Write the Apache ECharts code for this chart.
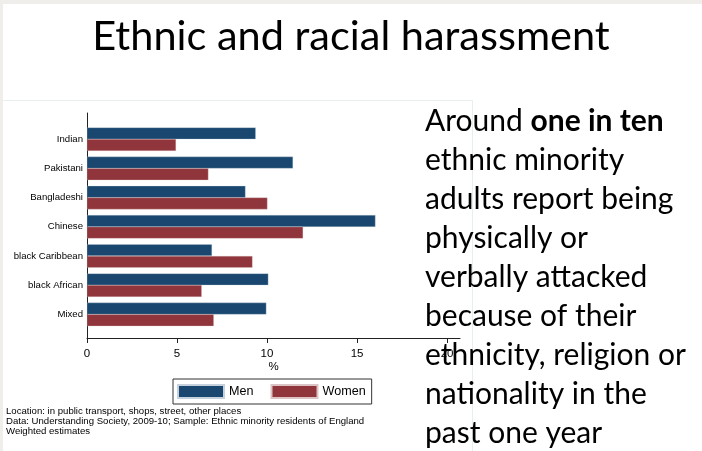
<!DOCTYPE html>
<html>
<head>
<meta charset="utf-8">
<script src="https://cdn.jsdelivr.net/npm/echarts@6/dist/echarts.min.js"></script>
<style>
html,body{margin:0;padding:0;background:#fff;}
#chart{width:702px;height:451px;}
</style>
</head>
<body>
<div id="chart"></div>
<script>
const categories = ['Indian', 'Pakistani', 'Bangladeshi', 'Chinese', 'black Caribbean', 'black African', 'Mixed'];
const menValues = [9.37, 11.44, 8.80, 16.02, 6.94, 10.07, 9.96];
const womenValues = [4.94, 6.74, 10.02, 12.00, 9.19, 6.37, 7.04];
const xTicks = [0, 5, 10, 15, 20];
const titleText = 'Ethnic and racial harassment';
const noteLines = [
  'Location: in public transport, shops, street, other places',
  'Data: Understanding Society, 2009-10; Sample: Ethnic minority residents of England',
  'Weighted estimates'
];

const chart = echarts.init(document.getElementById('chart'), null, {renderer: 'canvas'});
const AX = 'Liberation Sans, Arial, sans-serif';
const SLIDE = 'Lato, "Open Sans", sans-serif';
const axisMax = 20.72;

chart.setOption({
  backgroundColor: '#ffffff',
  animation: false,
  title: {
    text: titleText,
    left: 'center',
    top: 11,
    textStyle: {fontFamily: SLIDE, fontWeight: 'normal', fontSize: 41.5, color: '#000'}
  },
  legend: {
    data: ['Men', 'Women'],
    left: 173,
    top: 379,
    orient: 'horizontal',
    itemWidth: 46,
    itemHeight: 13,
    itemGap: 17,
    padding: [5, 6, 5, 4],
    borderColor: '#333',
    borderWidth: 1,
    icon: 'rect',
    textStyle: {fontFamily: AX, fontSize: 12.6, color: '#000'}
  },
  grid: [
    {left: 87, width: 373, top: 124.6, height: 204.4, containLabel: false},
    {left: 87, width: 373, top: 113, height: 225, containLabel: false}
  ],
  xAxis: [
    {gridIndex: 0, type: 'value', min: 0, max: axisMax, show: false, splitLine: {show: false}},
    {gridIndex: 1, type: 'value', min: 0, max: axisMax, interval: 5,
     name: '%', nameLocation: 'middle', nameGap: 21,
     nameTextStyle: {fontFamily: AX, fontSize: 11.5, color: '#000'},
     axisLine: {show: true, onZero: false, lineStyle: {color: '#222', width: 1}},
     axisTick: {show: true, length: 5, customValues: xTicks, lineStyle: {color: '#222'}},
     axisLabel: {show: true, customValues: xTicks, margin: 10, fontFamily: AX, fontSize: 11.5, color: '#000'},
     splitLine: {show: false}}
  ],
  yAxis: [
    {gridIndex: 0, type: 'category', data: categories, inverse: true,
     axisLine: {show: false}, axisTick: {show: false},
     axisLabel: {fontFamily: AX, fontSize: 9.6, color: '#000', margin: 4}},
    {gridIndex: 1, type: 'value', min: 0, max: 1,
     axisLine: {show: true, onZero: false, lineStyle: {color: '#222', width: 1}},
     axisTick: {show: false}, axisLabel: {show: false}, splitLine: {show: false}}
  ],
  series: [
    {name: 'Men', type: 'bar', xAxisIndex: 0, yAxisIndex: 0, data: menValues,
     barGap: '0%', barCategoryGap: '20%',
     itemStyle: {color: '#1a476f', borderColor: '#c5d2de', borderWidth: 0.3}},
    {name: 'Women', type: 'bar', xAxisIndex: 0, yAxisIndex: 0, data: womenValues,
     barGap: '0%', barCategoryGap: '20%',
     itemStyle: {color: '#90353b', borderColor: '#dcc4c6', borderWidth: 0.3}}
  ],
  graphic: [
    {type: 'rect', shape: {x: 0, y: 0, width: 702, height: 4}, style: {fill: '#efeeea'}, silent: true},
    {type: 'rect', shape: {x: 0, y: 0, width: 3, height: 451}, style: {fill: '#efeeea'}, silent: true},
    {type: 'line', shape: {x1: 3, y1: 100.5, x2: 472.5, y2: 100.5}, style: {stroke: '#e6eeee', lineWidth: 1}, silent: true},
    {type: 'line', shape: {x1: 472.5, y1: 100.5, x2: 472.5, y2: 451}, style: {stroke: '#e6eeee', lineWidth: 1}, silent: true},
    {type: 'text', left: 6, top: 406,
     style: {text: noteLines.join('\n'), fontFamily: AX, fontSize: 9.6, lineHeight: 10, fill: '#000'}},
    {type: 'text', left: 425, top: 102, z: 100,
     style: {
       text: '{n|Around }{b|one in ten}\n{n|ethnic minority}\n{n|adults report being}\n{n|physically or}\n{n|verbally attacked}\n{n|because of their}\n{n|ethnicity, religion or}\n{n|nationality in the}\n{n|past one year}',
       fontFamily: SLIDE, fontSize: 30, lineHeight: 39, fill: '#000',
       rich: {
         n: {fontFamily: SLIDE, fontSize: 30, lineHeight: 39, fill: '#000'},
         b: {fontFamily: SLIDE, fontSize: 30, lineHeight: 39, fontWeight: 'bold', fill: '#000'}
       }
     }}
  ]
});
</script>
</body>
</html>
